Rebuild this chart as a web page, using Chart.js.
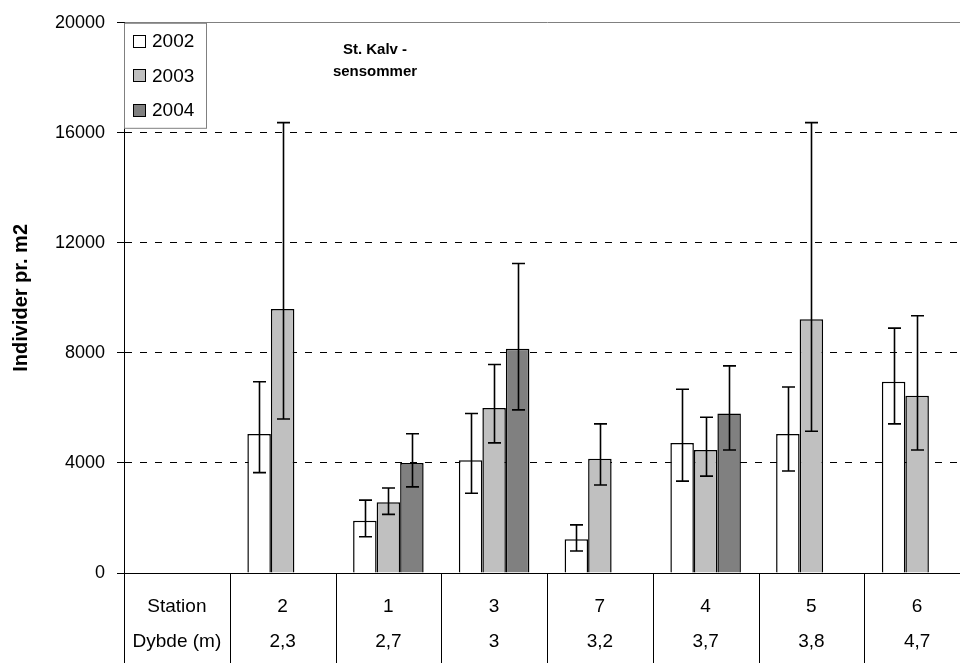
<!DOCTYPE html>
<html lang="da">
<head>
    <meta charset="UTF-8">
    <title>St. Kalv - sensommer</title>
    <script src="https://cdn.jsdelivr.net/npm/chart.js"></script>
    <style>
        html, body { margin: 0; padding: 0; background: #fff; overflow: hidden; }
        #wrap { width: 970px; height: 663px; }
    </style>
</head>
<body>
    <div id="wrap">
        <canvas id="kalvChart" width="970" height="663"></canvas>
    </div>

    <script>
        // table rows under the chart (first column holds the row names)
        const stations = ['Station', '2', '1', '3', '7', '4', '5', '6'];
        const depths = ['Dybde (m)', '2,3', '2,7', '3', '3,2', '3,7', '3,8', '4,7'];

        const years = ['2002', '2003', '2004'];

        // mean values, individer pr. m2
        const v2002 = [null, 5050, 1900, 4100, 1230, 4730, 5050, 6950];
        const v2003 = [null, 9600, 2570, 6000, 4150, 4470, 9220, 6440];
        const v2004 = [null, null, 4000, 8150, null, 5800, null, null];

        // error bar ends (upper / lower)
        const hi2002 = [null, 6950, 2650, 5800, 1750, 6680, 6760, 8900];
        const lo2002 = [null, 3650, 1320, 2900, 800, 3340, 3710, 5420];
        const hi2003 = [null, 16370, 3090, 7580, 5420, 5660, 16370, 9350];
        const lo2003 = [null, 5600, 2130, 4730, 3200, 3520, 5150, 4470];
        const hi2004 = [null, null, 5060, 11250, null, 7530, null, null];
        const lo2004 = [null, null, 3130, 5930, null, 4470, null, null];

        const yTicks = [0, 4000, 8000, 12000, 16000, 20000];

        const FONT = '"Liberation Sans", Arial, sans-serif';

        const errorBars = {
            id: 'errorBars',
            afterDatasetsDraw(chart) {
                const ctx = chart.ctx;
                const y = chart.scales.y;
                chart.data.datasets.forEach((ds, i) => {
                    const meta = chart.getDatasetMeta(i);
                    meta.data.forEach((bar, j) => {
                        if (ds.data[j] == null || ds.hi[j] == null) return;
                        const x = Math.round(bar.x) + 0.5;
                        const top = y.getPixelForValue(ds.hi[j]);
                        const bot = y.getPixelForValue(ds.lo[j]);
                        ctx.save();
                        ctx.strokeStyle = '#000';
                        ctx.lineWidth = 1.6;
                        ctx.beginPath();
                        ctx.moveTo(x, top);
                        ctx.lineTo(x, bot);
                        ctx.moveTo(x - 6.5, top);
                        ctx.lineTo(x + 6.5, top);
                        ctx.moveTo(x - 6.5, bot);
                        ctx.lineTo(x + 6.5, bot);
                        ctx.stroke();
                        ctx.restore();
                    });
                });
            }
        };

        const extras = {
            id: 'extras',
            afterDraw(chart) {
                const ctx = chart.ctx;
                const xs = chart.scales.x;
                const area = chart.chartArea;
                ctx.save();

                // data table lines below the axis
                ctx.strokeStyle = '#000';
                ctx.lineWidth = 1;
                ctx.beginPath();
                const left = Math.round(area.left) + 0.5;
                ctx.moveTo(left, area.bottom);
                ctx.lineTo(left, chart.height);
                for (let k = 1; k < stations.length; k++) {
                    const bx = Math.round((xs.getPixelForValue(k - 1) + xs.getPixelForValue(k)) / 2) + 0.5;
                    ctx.moveTo(bx, area.bottom);
                    ctx.lineTo(bx, chart.height);
                }
                ctx.stroke();

                // title inside plot
                ctx.fillStyle = '#000';
                ctx.font = 'bold 15px ' + FONT;
                ctx.textAlign = 'center';
                ctx.textBaseline = 'middle';
                ctx.fillText('St. Kalv -', 375, 50);
                ctx.fillText('sensommer', 375, 72);

                // legend box top left
                ctx.fillStyle = '#fff';
                ctx.fillRect(left, area.top + 0.5, 82, 105);
                ctx.strokeStyle = '#808080';
                ctx.strokeRect(left, area.top + 0.5, 82, 105);
                ctx.font = '19px ' + FONT;
                ctx.textAlign = 'left';
                chart.data.datasets.forEach((ds, i) => {
                    const cy = 41 + i * 34.5;
                    ctx.fillStyle = ds.backgroundColor;
                    ctx.fillRect(133.5, Math.round(cy - 6.5) + 0.5, 12, 12);
                    ctx.strokeStyle = '#000';
                    ctx.strokeRect(133.5, Math.round(cy - 6.5) + 0.5, 12, 12);
                    ctx.fillStyle = '#000';
                    ctx.fillText(ds.label, 152, cy + 1);
                });
                ctx.restore();
            }
        };

        const barStyle = { borderColor: '#000', borderWidth: 1.5, categoryPercentage: 0.667, barPercentage: 1.0 };

        new Chart(document.getElementById('kalvChart'), {
            type: 'bar',
            data: {
                labels: stations.map((s, i) => [s, depths[i]]),
                datasets: [
                    { label: years[0], data: v2002, hi: hi2002, lo: lo2002, backgroundColor: '#ffffff', ...barStyle },
                    { label: years[1], data: v2003, hi: hi2003, lo: lo2003, backgroundColor: '#c0c0c0', ...barStyle },
                    { label: years[2], data: v2004, hi: hi2004, lo: lo2004, backgroundColor: '#808080', ...barStyle }
                ]
            },
            options: {
                responsive: false,
                animation: false,
                devicePixelRatio: 1,
                layout: { padding: { top: 22, left: 0, right: 0, bottom: 0 } },
                plugins: {
                    legend: { display: false },
                    tooltip: { enabled: false }
                },
                scales: {
                    x: {
                        grid: { display: false },
                        border: { display: true, color: '#000', width: 1 },
                        ticks: {
                            color: '#000',
                            padding: 8,
                            maxRotation: 0,
                            autoSkip: false,
                            font: { family: FONT, size: 19, lineHeight: '35px' }
                        },
                        afterFit: s => { s.height = 90; }
                    },
                    y: {
                        min: 0,
                        max: 20000,
                        afterBuildTicks: s => { s.ticks = yTicks.map(v => ({ value: v })); },
                        grid: {
                            color: c => (c.tick && c.tick.value === 20000) ? '#808080' : '#000',
                            lineWidth: 1,
                            tickLength: 7,
                            tickColor: '#000',
                            tickBorderDash: []
                        },
                        border: {
                            display: true,
                            color: '#000',
                            width: 1,
                            dash: c => (c.tick && c.tick.value > 0 && c.tick.value < 20000) ? [7, 8] : []
                        },
                        ticks: {
                            color: '#000',
                            padding: 12,
                            callback: v => String(v),
                            font: { family: FONT, size: 18 }
                        },
                        title: {
                            display: true,
                            text: 'Individer pr. m2',
                            color: '#000',
                            padding: { top: 9, bottom: 0 },
                            font: { family: FONT, size: 20, weight: 'bold' }
                        },
                        afterFit: s => { s.width = 124; }
                    }
                }
            },
            plugins: [errorBars, extras]
        });
    </script>
</body>
</html>
